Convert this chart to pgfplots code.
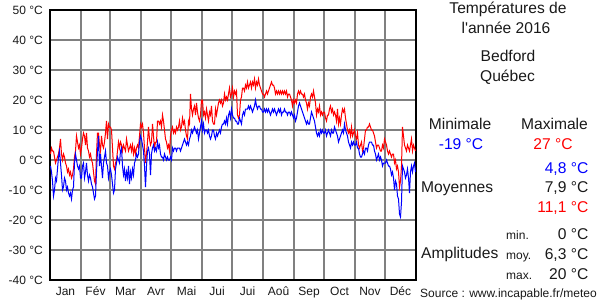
\documentclass[border=0pt]{standalone}
\usepackage{fontspec}
\setmainfont{Liberation Sans}
\usepackage{pgfplots}
\usepackage{pgfplotstable}
\pgfplotsset{compat=1.18}
\definecolor{gridgray}{RGB}{128,128,128}
\definecolor{tred}{RGB}{255,0,0}
\definecolor{tblue}{RGB}{0,0,255}
\newcommand\bigf{\fontsize{15.6}{18}\selectfont}
\newcommand\smallf{\fontsize{12}{14}\selectfont}
\pgfplotstableread[row sep=\\]{
hi lo\\
2 -2\\ 4 -4\\ 3 -7\\ 3 -12\\ 1 -10\\ -1 -6\\ 0 -7\\ 1 -3\\ 2 1\\ 4 3\\ 7 -1\\ 2 -5\\ 0 -10\\ 2 -9\\ 1 -6\\ -1 -7\\ -2 -10\\ -4 -9\\ -3 -11\\ -5 -12\\ -4 -11\\ -6 -13\\ -5 -10\\ -3 -9\\ 1 -1\\ 3 2\\ 8 0\\ 6 -2\\ 4 -3\\ 5 -2\\ 2 -6\\
4 -6\\ 7 -2\\ 9 -1\\ 8 -6\\ 5 -4\\ 9 -1\\ 4 -5\\ 3 -7\\ 1 -5\\ 2 -6\\ 0 -8\\ -1 -9\\ -4 -11\\ -7 -13\\ -8 -12\\ 2 -4\\ 9 3\\ 9 8\\ 5 -2\\ 3 2\\ 8 -2\\ 5 -6\\ 4 -1\\ 6 1\\ 9 3\\ 13 -1\\ 7 -2\\ 12 -6\\ 11 -4\\
11 -3\\ 10 -5\\ 4 -8\\ -2 -11\\ -3 -10\\ -1 -3\\ 0 -1\\ 3 1\\ 6 0\\ 4 -1\\ 6 3\\ 5 4\\ 3 -2\\ 5 -5\\ 4 -3\\ 3 -7\\ 7 -4\\ 5 -6\\ 3 -2\\ 4 -8\\ 5 -4\\ 3 -6\\ 5 -3\\ 2 -5\\ 4 -1\\ 2 0\\ 4 2\\ 5 1\\ 4 2\\ 8 6\\ 12 8\\
11 7\\ 12 5\\ 9 3\\ 4 -2\\ -1 -9\\ 2 -2\\ 6 3\\ 11 4\\ 7 2\\ 5 -5\\ 6 2\\ 12 4\\ 8 5\\ 4 3\\ 6 4\\ 6 3\\ 13 6\\ 13 4\\ 12 5\\ 13 2\\ 11 1\\ 15 1\\ 13 0\\ 10 2\\ 7 1\\ 6 0\\ 4 1\\ 5 0\\ 3 0\\ 8 1\\
10 0\\ 11 4\\ 9 3\\ 10 4\\ 9 4\\ 11 3\\ 10 4\\ 11 4\\ 13 4\\ 10 3\\ 11 4\\ 14 5\\ 12 6\\ 13 7\\ 10 6\\ 8 5\\ 7 6\\ 13 5\\ 12 7\\ 22 8\\ 17 10\\ 15 9\\ 17 10\\ 18 11\\ 15 10\\ 19 9\\ 16 10\\ 14 7\\ 13 9\\ 15 11\\ 20 13\\
20 10\\ 15 12\\ 16 9\\ 14 10\\ 17 10\\ 15 9\\ 13 10\\ 16 8\\ 15 7\\ 18 8\\ 13 10\\ 12 10\\ 12 8\\ 17 7\\ 15 9\\ 17 8\\ 19 9\\ 20 10\\ 19 9\\ 20 11\\ 18 12\\ 19 12\\ 22 13\\ 20 12\\ 21 14\\ 20 12\\ 22 15\\ 24 16\\ 21 14\\ 22 17\\
24 15\\ 21 14\\ 23 14\\ 22 13\\ 23 13\\ 15 12\\ 14 12\\ 15 14\\ 20 13\\ 21 12\\ 24 15\\ 24 16\\ 23 15\\ 25 17\\ 24 17\\ 26 17\\ 24 18\\ 25 17\\ 26 18\\ 24 17\\ 26 16\\ 25 17\\ 27 18\\ 24 20\\ 26 18\\ 25 17\\ 27 18\\ 25 18\\ 24 17\\ 23 17\\ 22 16\\
22 16\\ 21 17\\ 22 16\\ 23 17\\ 22 16\\ 23 17\\ 24 16\\ 25 15\\ 26 16\\ 25 17\\ 25 16\\ 24 17\\ 22 16\\ 23 15\\ 22 16\\ 23 17\\ 22 16\\ 23 17\\ 22 15\\ 23 16\\ 22 16\\ 23 17\\ 22 16\\ 23 16\\ 21 15\\ 22 16\\ 22 16\\ 21 15\\ 20 16\\ 18 15\\ 20 14\\
19 15\\ 20 13\\ 19 14\\ 22 16\\ 23 18\\ 22 19\\ 23 18\\ 22 17\\ 22 16\\ 21 15\\ 22 14\\ 20 13\\ 19 12\\ 17 13\\ 19 12\\ 18 12\\ 21 14\\ 22 16\\ 21 15\\ 23 14\\ 21 13\\ 19 11\\ 15 9\\ 17 8\\ 16 9\\ 18 8\\ 15 10\\ 16 9\\ 15 10\\ 16 9\\
16 9\\ 14 10\\ 13 8\\ 15 9\\ 15 10\\ 17 9\\ 18 8\\ 16 10\\ 17 9\\ 15 9\\ 16 11\\ 15 10\\ 13 9\\ 17 8\\ 12 6\\ 14 7\\ 12 8\\ 15 9\\ 17 10\\ 16 9\\ 17 12\\ 14 10\\ 12 9\\ 10 8\\ 9 6\\ 10 5\\ 8 4\\ 11 6\\ 8 5\\ 9 6\\ 10 5\\
8 5\\ 7 6\\ 9 4\\ 5 4\\ 4 2\\ 5 1\\ 6 1\\ 3 2\\ 4 3\\ 7 2\\ 10 4\\ 10 4\\ 11 3\\ 11 5\\ 12 6\\ 11 6\\ 10 6\\ 10 5\\ 9 5\\ 8 3\\ 6 2\\ 4 0\\ 5 1\\ 5 2\\ 4 0\\ 3 1\\ 3 0\\ 5 -2\\ 4 -1\\ 7 -1\\
6 -1\\ 5 0\\ 3 -1\\ 2 -2\\ 3 -2\\ 2 -3\\ 1 -5\\ 2 -4\\ 2 -6\\ -1 -10\\ 0 -7\\ -3 -8\\ -2 -12\\ -4 -13\\ -9 -18\\ -7 -19\\ -2 -14\\ 11 -2\\ 8 -3\\ 5 -4\\ 4 -6\\ 3 -5\\ 5 -3\\ 4 -6\\ 3 -11\\ 5 -4\\ 7 -2\\ 3 -4\\ 5 -2\\ 4 -1\\ 3 -4\\
}\temps
\begin{document}
\begin{tikzpicture}
\path[use as bounding box] (0,0) rectangle (600pt,300pt);
\begin{axis}[
  at={(50pt,20pt)}, anchor=south west,
  width=366pt, height=270pt, scale only axis,
  xmin=0, xmax=366, ymin=-40, ymax=50,
  xtick={15.5,45.5,75.5,106,136.5,167,197.5,228.5,259,289.5,320,350.5},
  xticklabels={Jan,Fév,Mar,Avr,Mai,Jui,Jui,Aoû,Sep,Oct,Nov,Déc},
  minor xtick={31,60,91,121,152,182,213,244,274,305,335},
  xminorgrids=true,
  ytick={-40,-30,...,50},
  yticklabels={-40 °C,-30 °C,-20 °C,-10 °C,0 °C,10 °C,20 °C,30 °C,40 °C,50 °C},
  ymajorgrids=true,
  major tick length=0pt, minor tick length=0pt,
  grid style={line width=1.35pt, gridgray},
  minor grid style={line width=1.35pt, gridgray},
  axis line style={line width=1.5pt, black},
  tick label style={font=\smallf, inner sep=0pt, text=black!90},
  xticklabel style={anchor=base, yshift=-15pt},
  yticklabel style={anchor=east, xshift=-7pt},
]
\addplot[tred, line width=1pt] table[x expr=\coordindex+0.5, y=hi] {\temps};
\addplot[tblue, line width=1pt] table[x expr=\coordindex+0.5, y=lo] {\temps};
\end{axis}
\begin{scope}[every node/.style={inner sep=0pt, text=black!90}]
\node[anchor=base, font=\bigf] at (508pt,286.5pt) {Températures de};
\node[anchor=base, font=\bigf] at (506pt,266.5pt) {l\textquotesingle année 2016};
\node[anchor=base, font=\bigf] at (508pt,238pt) {Bedford};
\node[anchor=base, font=\bigf] at (507.5pt,218.5pt) {Québec};
\node[anchor=base, font=\bigf] at (460pt,170pt) {Minimale};
\node[anchor=base, font=\bigf] at (554.5pt,170pt) {Maximale};
\node[anchor=base, font=\bigf, text=tblue] at (461pt,150.5pt) {-19 °C};
\node[anchor=base, font=\bigf, text=tred] at (553pt,150.5pt) {27 °C};
\node[anchor=base east, font=\bigf, text=tblue] at (588.5pt,126.5pt) {4,8 °C};
\node[anchor=base west, font=\bigf] at (421pt,107.5pt) {Moyennes};
\node[anchor=base east, font=\bigf] at (588.5pt,107.5pt) {7,9 °C};
\node[anchor=base east, font=\bigf, text=tred] at (588.5pt,87pt) {11,1 °C};
\node[anchor=base west, font=\smallf] at (506pt,60pt) {min.};
\node[anchor=base east, font=\bigf] at (588.5pt,60.5pt) {0 °C};
\node[anchor=base west, font=\bigf] at (421pt,41pt) {Amplitudes};
\node[anchor=base west, font=\smallf] at (506pt,40pt) {moy.};
\node[anchor=base east, font=\bigf] at (588.5pt,40.5pt) {6,3 °C};
\node[anchor=base west, font=\smallf] at (506pt,20pt) {max.};
\node[anchor=base east, font=\bigf] at (588.5pt,20.5pt) {20 °C};
\node[anchor=base west, font=\smallf] at (420pt,2.5pt) {Source : www.incapable.fr/meteo};
\end{scope}
\end{tikzpicture}
\end{document}
